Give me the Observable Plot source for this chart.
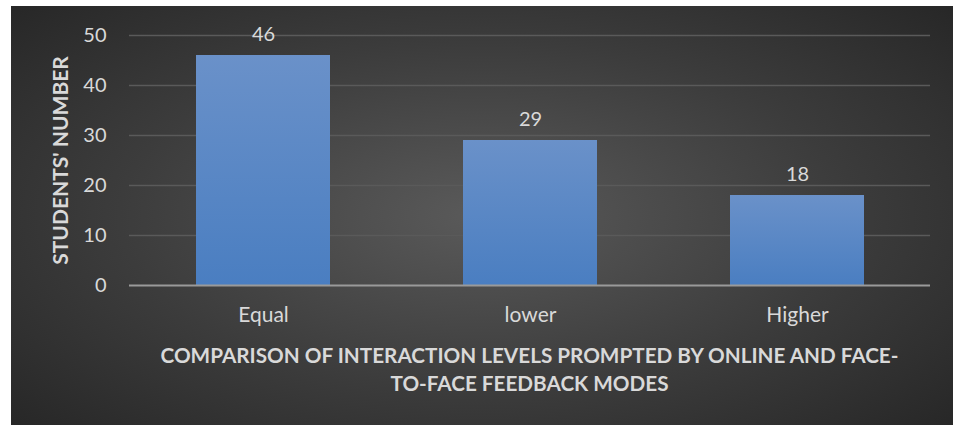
<!DOCTYPE html>
<html><head><meta charset="utf-8">
<script src="https://cdn.jsdelivr.net/npm/d3@7"></script>
<script src="https://cdn.jsdelivr.net/npm/@observablehq/plot@0.6"></script>
<style>
html,body{margin:0;padding:0;background:#fff;width:953px;height:425px;overflow:hidden;}
#card{position:absolute;left:11px;top:6px;width:942px;height:419px;
 background:radial-gradient(ellipse 70% 75% at 50% 50%, #5a5a5a 0%, #3c3c3c 55%, #262626 100%);
 font-family:Lato,"Open Sans",sans-serif;}
#xtitle{position:absolute;left:100px;width:837px;top:335px;text-align:center;color:#d9d9d9;
 font-weight:bold;font-size:20.7px;line-height:28px;}
svg text{font-family:Lato,"Open Sans",sans-serif;}
</style></head><body>
<div id="card"><div id="chart"></div><div id="xtitle">COMPARISON OF INTERACTION LEVELS PROMPTED BY ONLINE AND FACE-<br>TO-FACE FEEDBACK MODES</div></div>
<script>
const categories = ["Equal", "lower", "Higher"];
const students = [46, 29, 18];
const yTicks = [0, 10, 20, 30, 40, 50];
const yLabel = "STUDENTS' NUMBER";

const data = categories.map((c, i) => ({category: c, value: students[i]}));

const chart = Plot.plot({
  width: 942,
  height: 330,
  marginLeft: 118,
  marginRight: 23,
  marginTop: 29,
  marginBottom: 51,
  style: {background: "transparent", color: "#d9d9d9", fontSize: "20px", overflow: "visible"},
  x: {domain: categories, paddingInner: 0.5, paddingOuter: 0.25, label: null},
  y: {domain: [0, 50], ticks: yTicks, label: null},
  marks: [
    Plot.gridY(yTicks.filter(d => d > 0), {stroke: "#5a5a5a", strokeOpacity: 1, strokeWidth: 1.3}),
    Plot.axisY({ticks: yTicks, tickSize: 0, tickPadding: 23, fontSize: 20, label: null}),
    Plot.axisX({tickSize: 0, tickPadding: 22, fontSize: 21, label: null}),
    Plot.barY(data, {x: "category", y: "value", fill: "url(#barGrad)"}),
    Plot.ruleY([0], {stroke: "#9a9a9a", strokeWidth: 2}),
    Plot.text(data, {x: "category", y: "value", text: d => String(d.value), dy: -21, fontSize: 20, fill: "#d9d9d9"}),
    Plot.text([yLabel], {frameAnchor: "left", dx: -68, rotate: -90, textAnchor: "middle", text: d => d, fontSize: 21, fontWeight: "bold", fill: "#d9d9d9"})
  ]
});

const ns = "http://www.w3.org/2000/svg";
const defs = document.createElementNS(ns, "defs");
defs.innerHTML = '<linearGradient id="barGrad" x1="0" y1="0" x2="0" y2="1"><stop offset="0" stop-color="#6a91c9"/><stop offset="1" stop-color="#4a7ec1"/></linearGradient>';
chart.insertBefore(defs, chart.firstChild);
document.getElementById("chart").appendChild(chart);
</script>
</body></html>
